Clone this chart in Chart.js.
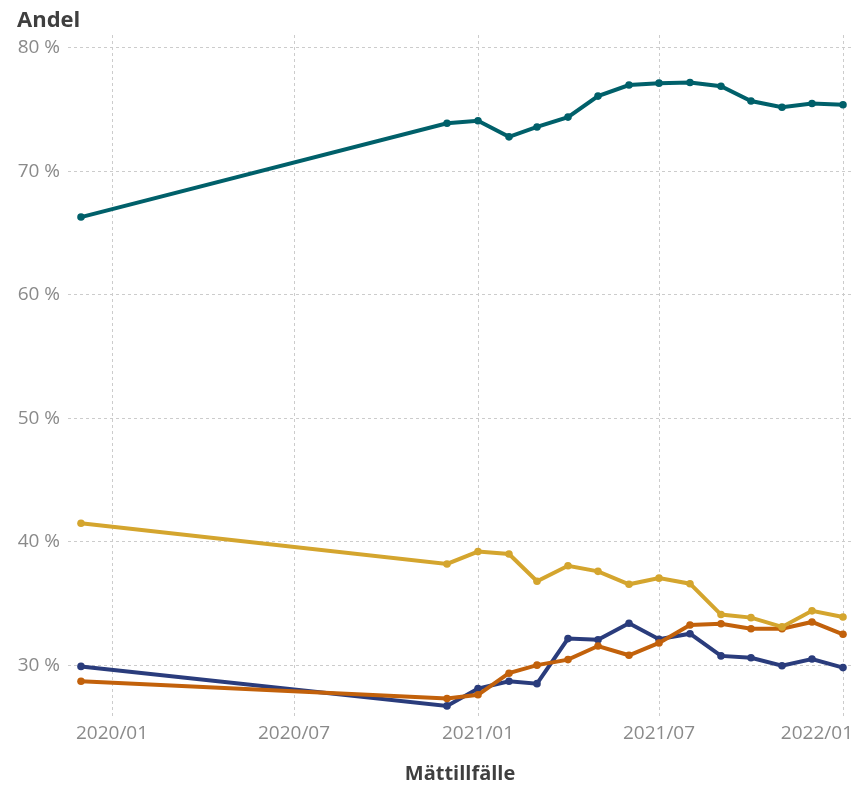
<!DOCTYPE html>
<html lang="sv">
<head>
<meta charset="utf-8">
<title>Andel per mättillfälle</title>
<script src="https://cdn.jsdelivr.net/npm/chart.js@4.4.1/dist/chart.umd.min.js"></script>
<style>
  html, body { margin: 0; padding: 0; background: #fff; }
  #wrap { width: 856px; height: 786px; position: relative; }
</style>
</head>
<body>
<div id="wrap"><canvas id="chart"></canvas></div>
<script>
// Measurement dates (monthly from 2020-12, plus a first one in 2019-12)
const dates = [
  "2019-12-01", "2020-12-01", "2021-01-01", "2021-02-01", "2021-03-01",
  "2021-04-01", "2021-05-01", "2021-06-01", "2021-07-01", "2021-08-01",
  "2021-09-01", "2021-10-01", "2021-11-01", "2021-12-01", "2022-01-01",
];

// Shares in percent
const tealValues = [66.3, 73.9, 74.1, 72.8, 73.6, 74.4, 76.1, 77.0, 77.15, 77.2, 76.9, 75.7, 75.2, 75.5, 75.4];
const yellowValues = [41.5, 38.2, 39.2, 39.0, 36.8, 38.05, 37.6, 36.55, 37.05, 36.6, 34.1, 33.85, 33.1, 34.4, 33.9];
const orangeValues = [28.7, 27.3, 27.6, 29.35, 30.0, 30.45, 31.55, 30.8, 31.8, 33.25, 33.35, 32.95, 32.95, 33.5, 32.5];
const blueValues = [29.9, 26.7, 28.1, 28.7, 28.5, 32.15, 32.05, 33.4, 32.1, 32.55, 30.75, 30.6, 29.95, 30.5, 29.8];

// Axis ticks
const xTickLabels = ["2020/01", "2020/07", "2021/01", "2021/07", "2022/01"];
const yTickValues = [30, 40, 50, 60, 70, 80];

const toTime = (s) => {
  const [y, m, d] = s.split(/[-/]/).map(Number);
  return Date.UTC(y, m - 1, d || 1);
};
const fmtMonth = (t) => {
  const d = new Date(t);
  return d.getUTCFullYear() + "/" + String(d.getUTCMonth() + 1).padStart(2, "0");
};

const xs = dates.map(toTime);
const series = (values) => values.map((v, i) => ({ x: xs[i], y: v }));

const tickColor = "#8a8a8a";
const gridColor = "#cccccc";
const titleColor = "#3f3f3f";
const fontFamily = "'Open Sans', 'Noto Sans', sans-serif";

function lineSet(label, values, color) {
  return {
    label,
    data: series(values),
    borderColor: color,
    backgroundColor: color,
    borderWidth: 4,
    pointRadius: 3.8,
    pointHoverRadius: 4,
    pointBorderWidth: 0,
    tension: 0,
  };
}

// Keep the last x label inside the canvas (right aligned like the original)
const edgeLabelPlugin = {
  id: "edgeLabel",
  beforeDraw(chart) {
    const scale = chart.scales.x;
    const items = scale.getLabelItems();
    if (!items.length) return;
    const last = items[items.length - 1];
    last.options.textAlign = "right";
    last.options.translation[0] = chart.width - 3;
  },
};

new Chart(document.getElementById("chart"), {
  type: "line",
  data: {
    datasets: [
      lineSet("Teal", tealValues, "#00606a"),
      lineSet("Gul", yellowValues, "#d4a52e"),
      lineSet("Orange", orangeValues, "#c2610b"),
      lineSet("Blå", blueValues, "#2a3c7c"),
    ],
  },
  options: {
    responsive: true,
    maintainAspectRatio: false,
    animation: false,
    layout: { padding: { left: 17, right: 0, top: 0, bottom: 0 } },
    plugins: {
      legend: { display: false },
      tooltip: { enabled: false },
      title: {
        display: true,
        text: "Andel",
        align: "start",
        color: titleColor,
        font: { family: fontFamily, size: 22, weight: "bold" },
        padding: { top: 8, bottom: 0.6 },
      },
    },
    scales: {
      x: {
        type: "linear",
        min: toTime("2019-11-18"),
        max: toTime("2022-01-10"),
        grid: {
          color: gridColor,
          lineWidth: 1,
          drawTicks: false,
        },
        border: { display: false, dash: [3, 3] },
        ticks: {
          color: tickColor,
          font: { family: fontFamily, size: 19 },
          padding: 5,
          maxRotation: 0,
          autoSkip: false,
          callback: (v) => fmtMonth(v),
        },
        afterBuildTicks: (scale) => {
          scale.ticks = xTickLabels.map((l) => ({ value: toTime(l) }));
        },
        afterFit: (scale) => {
          scale.height = 69;
          scale.paddingLeft = 0;
          scale.paddingRight = 0;
        },
        title: {
          display: true,
          text: "Mättillfälle",
          color: titleColor,
          font: { family: fontFamily, size: 20, weight: "bold" },
          padding: { top: 0, bottom: 0 },
        },
      },
      y: {
        type: "linear",
        min: 25.8,
        max: 81.05,
        border: { display: false, dash: [3, 3] },
        grid: {
          color: gridColor,
          lineWidth: 1,
          drawTicks: false,
        },
        ticks: {
          color: tickColor,
          font: { family: fontFamily, size: 19 },
          padding: 8,
          callback: (v) => v + " %",
        },
        afterBuildTicks: (scale) => {
          scale.ticks = yTickValues.map((v) => ({ value: v }));
        },
        afterFit: (scale) => {
          scale.width = 51;
          scale.paddingTop = 0;
          scale.paddingBottom = 0;
        },
      },
    },
  },
  plugins: [edgeLabelPlugin],
});
</script>
</body>
</html>
